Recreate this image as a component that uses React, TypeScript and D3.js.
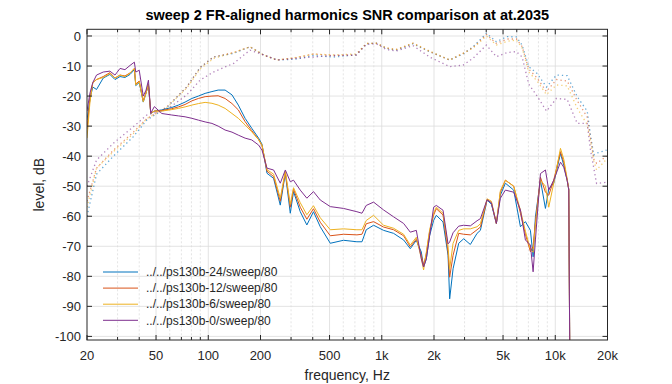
import React, { useEffect, useRef } from 'react';
import * as d3 from 'd3';

// harmonics (solid) curves, dB
const freqSolid = [
  20, 20.8, 21.6, 22.7, 24.8, 27.1, 29, 31, 33.1, 35.4, 37.5, 38.2, 40, 42.2, 43.8, 45.2, 46.6, 48.9,
  54, 61.6, 67.3, 73.5, 80.4, 87.7, 95.9, 105, 114, 125, 137, 149, 163, 178, 195, 204, 218, 238,
  260, 278, 297, 310, 339, 370, 404, 442, 505, 602, 719, 769, 814, 897, 1024, 1170, 1336, 1460,
  1582, 1690, 1742, 1806, 1888, 1990, 2063, 2255, 2410, 2462, 2576, 2776, 2966, 3240, 3542, 3702,
  4046, 4284, 4576, 4826, 5158, 5760, 6298, 6728, 7190, 7452, 7684, 8214, 8776, 9170, 9800, 10712,
  11192, 11710, 11960, 12120,
];
const solidB24 = [
  -28, -21, -17, -17.8, -14, -12.8, -14.5, -13.5, -13.8, -12.8, -11.2, -16.5, -15.5, -22, -19, -16.2, -25.8, -25,
  -24.6, -23.8, -23, -22, -20.8, -20, -19.1, -18.5, -18, -18, -19.6, -23, -27.4, -30.7, -34, -36, -45.7, -47.4,
  -56.3, -45.7, -59, -51.8, -58.5, -62.9, -58.5, -63.5, -69, -68, -68.5, -68.5, -64.5, -63, -64.7, -65.7, -67.9, -70.8,
  -68, -71.9, -76.9, -74.2, -66.4, -61.4, -59.7, -61.9, -73, -87.5, -77.5, -69, -67.5, -69.4, -65.7, -64.7,
  -54.6, -56, -62.4, -53, -49, -51.3, -63.5, -61.8, -64.7, -73.5, -60.2, -48, -57.4, -51, -49, -39.1,
  -43, -48, -51, -105,
];
const solidB12 = [
  -31, -21, -15.5, -14.5, -13.5, -12.2, -14, -13, -13.3, -12.3, -10.8, -16, -15, -21.5, -18.8, -16, -25.7, -25,
  -24.8, -24.2, -23.6, -22.8, -21.6, -20.8, -20.2, -20, -19.9, -20.8, -22.5, -24.6, -28.5, -31.5, -34.5, -36.5, -45, -46.8,
  -55, -45.5, -57, -51, -57, -61, -57.5, -62, -66.5, -66, -66.2, -66, -62.5, -61.8, -63.6, -64.5, -66.5, -70.2,
  -67.6, -73, -76.3, -72.5, -65, -59.6, -57.5, -59.6, -72, -80.3, -73, -65.7, -66, -66.2, -64.5, -63.6,
  -54.5, -55.5, -62.4, -52, -48, -50, -59, -66, -71.8, -70, -62, -47, -52, -53, -48, -38.5,
  -42, -48, -51, -105,
];
const solidB6 = [
  -34, -22, -15.5, -14.5, -13.8, -12.5, -14, -13, -13.5, -12.4, -10.8, -16.3, -15.2, -21.9, -19, -16, -25.7, -25,
  -25, -24.5, -24.1, -23.6, -23, -22.5, -22.1, -22.4, -23, -24.1, -25.8, -27.4, -29.6, -31.9, -34.5, -36.3, -44.5, -46,
  -54, -45, -56, -50.5, -55.5, -59.5, -56.5, -60.5, -64.5, -64.2, -64.5, -64.5, -61.4, -59.7, -63, -64, -66, -69.6,
  -67, -74, -77.9, -72, -64.5, -59, -57, -59, -70, -77.5, -69, -64.7, -64.2, -64.2, -63.5, -62.5,
  -54.2, -55, -62.4, -51.5, -48, -50, -58, -65, -71, -72, -63, -48, -50, -57, -49, -37.4,
  -41, -47.5, -51, -105,
];
const solidB0 = [
  -25, -19, -15.5, -13, -12, -11.7, -13, -10.8, -11.2, -9.8, -8.7, -12, -11.4, -20, -18, -14.7, -25.7, -23.5,
  -25.8, -26.3, -26.6, -26.9, -27.4, -28, -28.6, -29.1, -30, -31.3, -32, -33, -34, -34.6, -36.3, -38, -44, -44.6,
  -49, -44.6, -48.5, -48, -51.3, -54, -51.8, -54.6, -56.8, -57.4, -58.5, -59, -56.4, -55.3, -57.9, -60.2, -62.4, -65.3,
  -64.7, -74.2, -76.9, -74.2, -66.4, -57, -56.4, -58, -69.2, -68.6, -65.5, -63.3, -63, -63.2, -61.5, -60.8,
  -54.5, -55.5, -62.4, -54, -51.3, -52, -57.9, -67.9, -69.6, -78.5, -67.9, -45.8, -44.6, -51.3, -48, -42,
  -43.7, -48, -51.3, -105,
];

// frequency response (dotted) curves, dB
const freqDotted = [
  20, 22.7, 28.4, 37, 44.2, 57.7, 75.2, 89.7, 107, 140, 174, 208, 249, 317, 404, 527, 713, 814, 930, 1062,
  1212, 1514, 1888, 2462, 2942, 3360, 4008, 4576, 5276, 5970, 6440, 7032, 7860, 8896, 10156, 11710, 13380,
  15280, 15960, 16680, 17300, 19750,
];
const dottedB24 = [
  -60, -46, -40, -33.5, -28, -23.8, -16.9, -10.5, -7, -5.8, -3.6, -6.3, -8, -7.7, -6.5, -7, -6.3, -2.6, -2.4, -4.1,
  -4.7, -2.6, -5.2, -8, -6, -3.6, 0.9, -1.9, -0.2, -0.3, -3, -10.2, -12.5, -17, -13, -13.2, -20.2,
  -25, -33, -39.6, -39, -38,
];
const dottedB12 = [
  -55, -44, -38, -32, -27.5, -23.6, -17, -10.5, -7, -5.5, -3.6, -6.3, -8, -7.3, -6, -6.5, -6.3, -2.5, -2.4, -4,
  -4.5, -2.4, -5.2, -8, -5.8, -3.8, 0.5, -2.5, -1, -1, -3.5, -11, -14, -18.5, -14.5, -15, -21.5,
  -27, -34, -41, -42.4, -40,
];
const dottedB6 = [
  -57, -44, -38.5, -32.5, -27.5, -23.8, -17.3, -11, -7.5, -5.5, -3.6, -6.3, -8, -7.2, -6, -6.3, -6, -2.5, -2.4, -4,
  -4.5, -2.4, -5, -8, -5.8, -4, 0, -3, -1.8, -1.3, -4, -12, -15, -19.5, -16.3, -16.6, -24,
  -29.5, -35, -41.5, -44.6, -41,
];
const dottedB0 = [
  -50, -41.3, -35.7, -30.2, -26.3, -24.5, -19.6, -14.7, -12, -9.1, -4.7, -6.3, -8, -7.5, -7, -6.5, -6.3, -2.8, -2.6, -4.5,
  -5, -3.2, -7, -10.2, -9.7, -7.4, -3, -6.9, -5.5, -5.2, -7, -16, -20, -25, -20.8, -21.1, -29.1,
  -29.1, -38, -44, -49.1, -48.7,
];

const seriesNames = [
  '../../ps130b-24/sweep/80',
  '../../ps130b-12/sweep/80',
  '../../ps130b-6/sweep/80',
  '../../ps130b-0/sweep/80',
];
const seriesColors = ['#0072BD', '#D95319', '#EDB120', '#7E2F8E'];

const xTickValues = [20, 50, 100, 200, 500, 1000, 2000, 5000, 10000, 20000];
const xTickLabels = ['20', '50', '100', '200', '500', '1k', '2k', '5k', '10k', '20k'];
const xMinorTicks = [30, 40, 60, 70, 80, 90, 300, 400, 600, 700, 800, 900, 3000, 4000, 6000, 7000, 8000, 9000];
const yTickValues = [0, -10, -20, -30, -40, -50, -60, -70, -80, -90, -100];

const W = 672;
const H = 384;

const App: React.FC = () => {
  const svgRef = useRef<SVGSVGElement>(null);

  useEffect(() => {
    if (!svgRef.current) return;
    const svg = d3.select(svgRef.current);
    svg.selectAll('*').remove();

    const left = 87, right = 607.5, top = 29.3, bottom = 340;
    const font = 'Arial, "Liberation Sans", Helvetica, sans-serif';
    const axisColor = '#262626';

    const x = d3.scaleLog().domain([20, 20000]).range([left, right]);
    const y = d3.scaleLinear().domain([-101.2, 2.23]).range([bottom, top]);

    svg.append('rect').attr('width', W).attr('height', H).attr('fill', '#ffffff');

    svg.append('defs').append('clipPath').attr('id', 'plot-clip')
      .append('rect')
      .attr('x', left).attr('y', top)
      .attr('width', right - left).attr('height', bottom - top);

    // minor grid
    svg.append('g').selectAll('line')
      .data(xMinorTicks)
      .enter().append('line')
      .attr('x1', d => x(d)).attr('x2', d => x(d))
      .attr('y1', top).attr('y2', bottom)
      .attr('stroke', '#d2d2d2')
      .attr('stroke-width', 0.6)
      .attr('stroke-dasharray', '2,2');

    // major grid
    svg.append('g').selectAll('line')
      .data(xTickValues.slice(1, -1))
      .enter().append('line')
      .attr('x1', d => x(d)).attr('x2', d => x(d))
      .attr('y1', top).attr('y2', bottom)
      .attr('stroke', '#dcdcdc')
      .attr('stroke-width', 0.8);

    svg.append('g').selectAll('line')
      .data(yTickValues)
      .enter().append('line')
      .attr('x1', left).attr('x2', right)
      .attr('y1', d => y(d)).attr('y2', d => y(d))
      .attr('stroke', '#dcdcdc')
      .attr('stroke-width', 0.8);

    const plot = svg.append('g').attr('clip-path', 'url(#plot-clip)');

    const line = d3.line<[number, number]>()
      .x(d => x(d[0]))
      .y(d => y(d[1]));

    const dotted = [dottedB24, dottedB12, dottedB6, dottedB0];
    const solid = [solidB24, solidB12, solidB6, solidB0];

    dotted.forEach((vals, i) => {
      plot.append('path')
        .datum(freqDotted.map((f, k) => [f, vals[k]] as [number, number]))
        .attr('fill', 'none')
        .attr('stroke', seriesColors[i])
        .attr('stroke-width', 1.3)
        .attr('stroke-dasharray', '1.3,3')
        .attr('opacity', 0.6)
        .attr('d', line);
    });

    solid.forEach((vals, i) => {
      plot.append('path')
        .datum(freqSolid.map((f, k) => [f, vals[k]] as [number, number]))
        .attr('fill', 'none')
        .attr('stroke', seriesColors[i])
        .attr('stroke-width', 1)
        .attr('stroke-linejoin', 'round')
        .attr('d', line);
    });

    // axes box and ticks
    const axes = svg.append('g').attr('stroke', axisColor).attr('stroke-width', 1);
    axes.append('rect')
      .attr('x', left).attr('y', top)
      .attr('width', right - left).attr('height', bottom - top)
      .attr('fill', 'none');

    const majorLen = 5, minorLen = 3;
    xTickValues.forEach(v => {
      axes.append('line').attr('x1', x(v)).attr('x2', x(v)).attr('y1', bottom).attr('y2', bottom - majorLen);
      axes.append('line').attr('x1', x(v)).attr('x2', x(v)).attr('y1', top).attr('y2', top + majorLen);
    });
    xMinorTicks.forEach(v => {
      axes.append('line').attr('x1', x(v)).attr('x2', x(v)).attr('y1', bottom).attr('y2', bottom - minorLen);
      axes.append('line').attr('x1', x(v)).attr('x2', x(v)).attr('y1', top).attr('y2', top + minorLen);
    });
    yTickValues.forEach(v => {
      axes.append('line').attr('x1', left).attr('x2', left + majorLen).attr('y1', y(v)).attr('y2', y(v));
      axes.append('line').attr('x1', right).attr('x2', right - majorLen).attr('y1', y(v)).attr('y2', y(v));
    });

    // tick labels
    svg.append('g').selectAll('text')
      .data(xTickValues)
      .enter().append('text')
      .attr('x', d => x(d))
      .attr('y', 360)
      .attr('text-anchor', 'middle')
      .attr('font-family', font)
      .attr('font-size', 13)
      .attr('fill', axisColor)
      .text((d, i) => xTickLabels[i]);

    svg.append('g').selectAll('text')
      .data(yTickValues)
      .enter().append('text')
      .attr('x', 81)
      .attr('y', d => y(d))
      .attr('dy', '0.35em')
      .attr('text-anchor', 'end')
      .attr('font-family', font)
      .attr('font-size', 13)
      .attr('fill', axisColor)
      .text(d => String(d));

    // labels
    svg.append('text')
      .attr('x', (left + right) / 2)
      .attr('y', 380)
      .attr('text-anchor', 'middle')
      .attr('font-family', font)
      .attr('font-size', 14)
      .attr('fill', axisColor)
      .text('frequency, Hz');

    svg.append('text')
      .attr('transform', `translate(44,${(top + bottom) / 2}) rotate(-90)`)
      .attr('text-anchor', 'middle')
      .attr('font-family', font)
      .attr('font-size', 14)
      .attr('fill', axisColor)
      .text('level, dB');

    svg.append('text')
      .attr('x', (left + right) / 2)
      .attr('y', 20)
      .attr('text-anchor', 'middle')
      .attr('font-family', font)
      .attr('font-size', 14.5)
      .attr('font-weight', 'bold')
      .attr('fill', '#000000')
      .text('sweep 2 FR-aligned harmonics SNR comparison at at.2035');

    // legend
    const legend = svg.append('g').attr('transform', 'translate(103,272)');
    seriesNames.forEach((name, i) => {
      const item = legend.append('g').attr('transform', `translate(0,${i * 16.1})`);
      item.append('line')
        .attr('x1', 0).attr('x2', 35)
        .attr('y1', 0).attr('y2', 0)
        .attr('stroke', seriesColors[i])
        .attr('stroke-width', 1);
      item.append('text')
        .attr('x', 43)
        .attr('y', 0)
        .attr('dy', '0.35em')
        .attr('font-family', font)
        .attr('font-size', 12)
        .attr('fill', axisColor)
        .text(name);
    });
  }, []);

  return (
    <svg
      ref={svgRef}
      width={W}
      height={H}
      style={{ position: 'absolute', left: 0, top: 0, display: 'block' }}
    />
  );
};

export default App;
